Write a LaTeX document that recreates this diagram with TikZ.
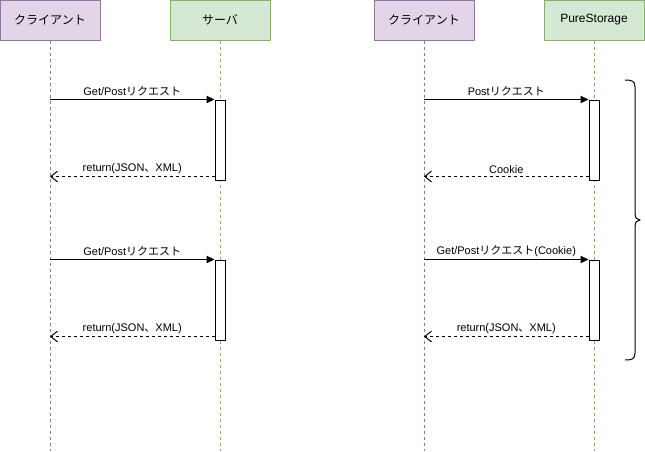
\documentclass[tikz,border=0pt]{standalone}
\usepackage{fontspec}
\setmainfont{Liberation Sans}
\newfontfamily\jpfont{Noto Sans CJK JP}
\usepackage{tikz}
\usetikzlibrary{arrows.meta}
\definecolor{clientfill}{HTML}{E1D5E7}
\definecolor{clientline}{HTML}{9673A6}
\definecolor{serverfill}{HTML}{D5E8D4}
\definecolor{serverline}{HTML}{82B366}

\begin{document}
\begin{tikzpicture}[x=0.75pt,y=-0.75pt,line join=round,
  actor/.style={minimum width=75pt,minimum height=30pt,inner sep=0pt,line width=0.75pt,font=\fontsize{9}{11}\selectfont},
  client/.style={actor,draw=clientline,fill=clientfill},
  server/.style={actor,draw=serverline,fill=serverfill},
  lifeline/.style={line width=0.75pt,dash pattern=on 2.25pt off 2.25pt},
  activation/.style={draw=black,fill=white,line width=0.75pt,minimum width=7.5pt,minimum height=60pt,inner sep=0pt},
  request/.style={line width=0.75pt,-{Triangle[length=6pt,width=5.5pt]}},
  reply/.style={line width=0.75pt,dash pattern=on 2.25pt off 2.25pt,-{Straight Barb[length=5pt,width=8pt]}},
  msg/.style={above,inner sep=2pt,font=\fontsize{8.25}{10}\selectfont}]
\useasboundingbox (0,0) rectangle (645,451);
% actors
\node[client] (cl1) at (50,20) {\jpfont クライアント};
\node[server] (sv) at (220,20) {\jpfont サーバ};
\node[client] (cl2) at (424,20) {\jpfont クライアント};
\node[server] (ps) at (594,20) {PureStorage};
% lifelines
\coordinate (cl1end) at (50,451);
\coordinate (svend) at (220,451);
\coordinate (cl2end) at (424,451);
\coordinate (psend) at (594,451);
\draw[lifeline,clientline] (cl1) -- (cl1end);
\draw[lifeline,serverline] (sv) -- (svend);
\draw[lifeline,clientline] (cl2) -- (cl2end);
\draw[lifeline,serverline] (ps) -- (psend);
% activations
\node[activation] (act1) at (220,140) {};
\node[activation] (act2) at (220,300) {};
\node[activation] (act3) at (594,140) {};
\node[activation] (act4) at (594,300) {};
\foreach \a in {act1,act2,act3,act4}
  \coordinate (\a ret) at ([yshift=3pt]\a.south west);
% messages
\draw[request] (cl1.south |- act1.north west) -- node[msg] {Get/Post{\jpfont リクエスト}} (act1.north west);
\draw[reply] (act1ret) -- node[msg] {return(JSON{\jpfont 、}XML)} (cl1.south |- act1ret);
\draw[request] (cl1.south |- act2.north west) -- node[msg] {Get/Post{\jpfont リクエスト}} (act2.north west);
\draw[reply] (act2ret) -- node[msg] {return(JSON{\jpfont 、}XML)} (cl1.south |- act2ret);
\draw[request] (cl2.south |- act3.north west) -- node[msg] {Post{\jpfont リクエスト}} (act3.north west);
\draw[reply] (act3ret) -- node[msg] {Cookie} (cl2.south |- act3ret);
\draw[request] (cl2.south |- act4.north west) -- node[msg] {Get/Post{\jpfont リクエスト}(Cookie)} (act4.north west);
\draw[reply] (act4ret) -- node[msg] {return(JSON{\jpfont 、}XML)} (cl2.south |- act4ret);
% brace
\draw[line width=0.75pt] (625,80) .. controls (632,80) and (635,81) .. (635,87) -- (635,213)
  .. controls (635,218) and (637,220) .. (640,220) .. controls (637,220) and (635,222) .. (635,227)
  -- (635,353) .. controls (635,359) and (632,360) .. (625,360);
\end{tikzpicture}
\end{document}
